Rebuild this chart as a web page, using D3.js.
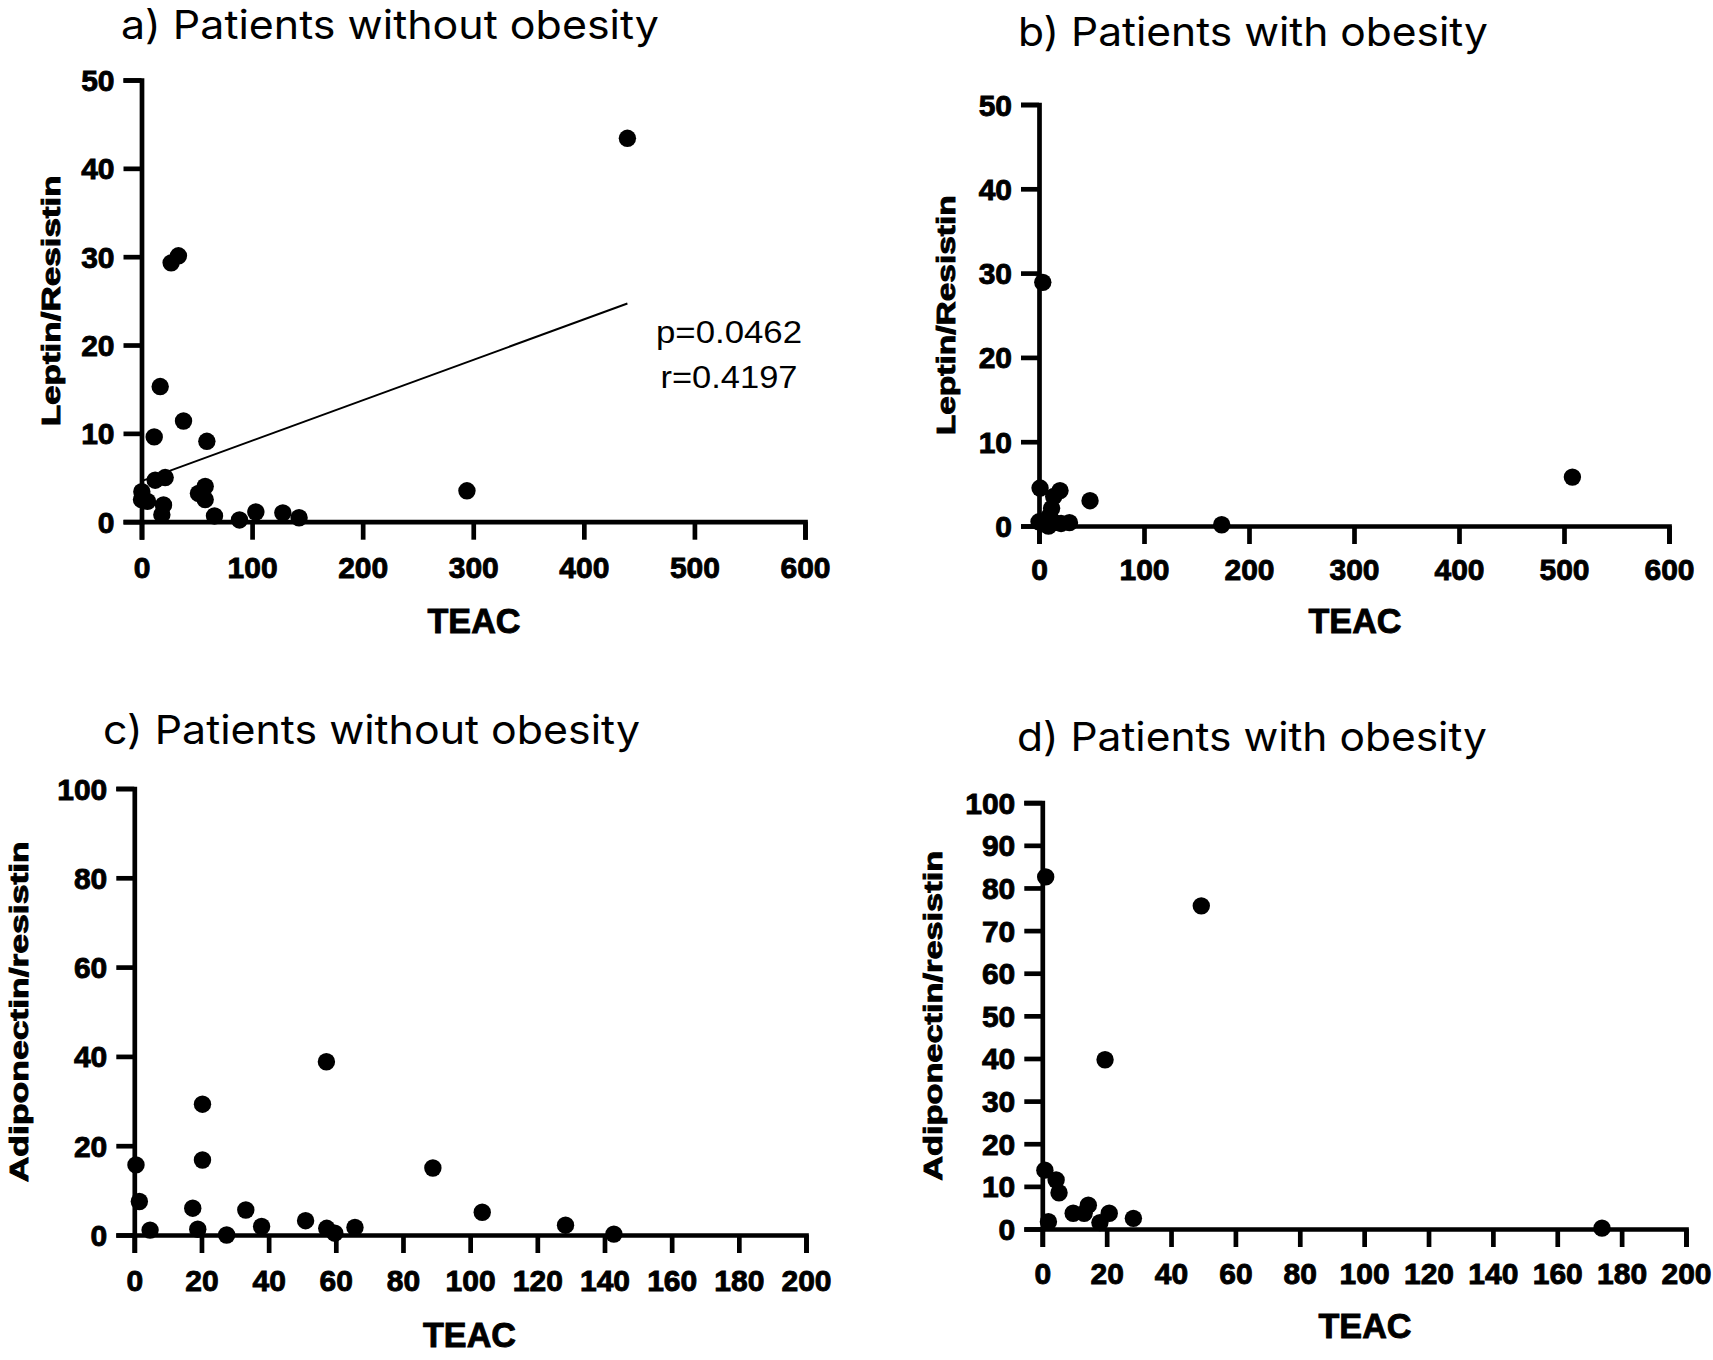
<!DOCTYPE html>
<html>
<head>
<meta charset="utf-8">
<script src="https://cdn.jsdelivr.net/npm/d3@7"></script>
<style>
body{margin:0;background:#fff}
.tick text{font-family:"Liberation Sans",Arial,sans-serif;font-weight:bold}
</style>
</head>
<body>
<div id="chart"></div>
<script>
// a) leptin/resistin vs TEAC, no obesity
const aX=[439.4,26.8,33.4,16.9,38,11.5,59.1,12.4,21.4,0.3,0,5.4,19.9,18.4,51.5,57.6,57.6,66,88.6,103.4,127.8,142.5,294.3]
const aY=[43.4,29.3,30.1,15.3,11.4,9.6,9.1,4.7,5.0,3.4,2.5,2.3,1.9,0.8,3.2,4.0,2.5,0.65,0.2,1.1,1.0,0.45,3.5]
// regression line ends
const fitX=[0,439.4]
const fitY=[4.6,24.7]
const statLines=["p=0.0462","r=0.4197"]

// b) leptin/resistin vs TEAC, obesity
const bX=[3.6,1.0,20,14,12,10,0,6,9,15,21,29,48.6,174,508]
const bY=[28.9,4.5,4.2,3.5,2.1,1.2,0.5,0.3,0,0.4,0.3,0.4,3.0,0.15,5.8]

// c) adiponectin/resistin vs TEAC, no obesity
const cX=[0.5,1.5,4.7,17.4,18.9,20.3,20.3,27.5,33.2,37.9,51.0,57.2,57.3,59.7,65.7,88.9,103.6,128.4,142.8]
const cY=[15.7,7.5,1.1,6.0,1.3,16.8,29.3,0.0,5.6,1.9,3.2,38.8,1.5,0.4,1.7,15.0,5.1,2.2,0.2]

// d) adiponectin/resistin vs TEAC, obesity
const dX=[1.05,49.4,19.5,0.8,4.3,5.2,1.9,9.6,13.0,14.3,17.9,20.8,28.3,173.9]
const dY=[82.6,75.8,39.7,13.8,11.5,8.5,1.7,3.7,3.7,5.6,1.5,3.7,2.5,0.2]

const teacTicks600=[0,100,200,300,400,500,600]
const teacTicks200=[0,20,40,60,80,100,120,140,160,180,200]
const ratioTicks50=[0,10,20,30,40,50]
const ratioTicks100by20=[0,20,40,60,80,100]
const ratioTicks100by10=[0,10,20,30,40,50,60,70,80,90,100]

const titles=["a) Patients without obesity","b) Patients with obesity","c) Patients without obesity","d) Patients with obesity"]
const yTitles=["Leptin/Resistin","Leptin/Resistin","Adiponectin/resistin","Adiponectin/resistin"]
const xTitle="TEAC"

const W=1713,H=1360

const svg=d3.select("#chart")
.append("svg")
.attr("width",W)
.attr("height",H)
.style("background","#fff")

const panels=[
{xs:aX,ys:aY,xMax:600,yMax:50,xTicks:teacTicks600,yTicks:ratioTicks50,
x0:141.5,x1:805,y0:521.7,y1:80,pad:17,
title:titles[0],tx:121,ty:38.5,tw:538,
yt:yTitles[0],ytx:59.5,ytw:251,
xtx:474,xty:633,fit:true},
{xs:bX,ys:bY,xMax:600,yMax:50,xTicks:teacTicks600,yTicks:ratioTicks50,
x0:1039,x1:1669,y0:526,y1:104.5,pad:15,
title:titles[1],tx:1018,ty:46,tw:470,
yt:yTitles[1],ytx:955,ytw:240,
xtx:1355,xty:632.6},
{xs:cX,ys:cY,xMax:200,yMax:100,xTicks:teacTicks200,yTicks:ratioTicks100by20,
x0:134.3,x1:806,y0:1235,y1:788.5,pad:17,
title:titles[2],tx:103,ty:744,tw:537,
yt:yTitles[2],ytx:28,ytw:341,
xtx:469.5,xty:1347},
{xs:dX,ys:dY,xMax:200,yMax:100,xTicks:teacTicks200,yTicks:ratioTicks100by10,
x0:1042.3,x1:1686,y0:1229,y1:802.7,pad:15.5,
title:titles[3],tx:1017,ty:751,tw:470,
yt:yTitles[3],ytx:942,ytw:330,
xtx:1365,xty:1338.4}
]

panels.forEach(drawPanel)

function drawPanel(p){

const x=d3.scaleLinear().domain([0,p.xMax]).range([p.x0,p.x1])
const y=d3.scaleLinear().domain([0,p.yMax]).range([p.y0,p.y1])

const g=svg.append("g")

// x axis
const gx=g.append("g")
.attr("transform","translate(0,"+y(0)+")")
.call(d3.axisBottom(x).tickValues(p.xTicks).tickSize(18).tickSizeOuter(18).tickPadding(p.pad))

// y axis
const gy=g.append("g")
.attr("transform","translate("+x(0)+",0)")
.call(d3.axisLeft(y).tickValues(p.yTicks).tickSize(18).tickSizeOuter(18).tickPadding(9))

g.selectAll(".domain")
.attr("stroke","#000")
.attr("stroke-width",4.7)
.attr("fill","none")

g.selectAll(".tick line")
.attr("stroke","#000")
.attr("stroke-width",4.7)

g.selectAll(".tick text")
.attr("fill","#000")
.attr("stroke","#000")
.attr("stroke-width",0.9)
.style("font-size","30px")

gy.selectAll(".tick text").attr("dy","0.35em")

// regression line (panel a only)
if(p.fit){
g.append("path")
.datum(d3.zip(fitX,fitY))
.attr("d",d3.line().x(d=>x(d[0])).y(d=>y(d[1])))
.attr("stroke","#000")
.attr("stroke-width",1.9)
.attr("fill","none")

g.selectAll(".stat")
.data(statLines)
.enter()
.append("text")
.attr("class","stat")
.attr("x",729)
.attr("y",(d,i)=>343.3+i*45)
.attr("text-anchor","middle")
.attr("textLength",(d,i)=>i==0?146:137)
.attr("lengthAdjust","spacingAndGlyphs")
.style("font-family","'Liberation Sans',Arial,sans-serif")
.style("font-size","31px")
.text(d=>d)
}

// points
g.selectAll(".dot")
.data(d3.zip(p.xs,p.ys))
.enter()
.append("circle")
.attr("class","dot")
.attr("cx",d=>x(d[0]))
.attr("cy",d=>y(d[1]))
.attr("r",8.7)
.attr("fill","#000")

// panel title
g.append("text")
.attr("x",p.tx)
.attr("y",p.ty)
.attr("textLength",p.tw)
.attr("lengthAdjust","spacingAndGlyphs")
.style("font-family","Inter,Roboto,sans-serif")
.style("font-size","40px")
.text(p.title)

// y axis title
const ymid=(p.y0+p.y1)/2
g.append("text")
.attr("transform","translate("+p.ytx+","+ymid+") rotate(-90)")
.attr("text-anchor","middle")
.attr("textLength",p.ytw)
.attr("lengthAdjust","spacingAndGlyphs")
.attr("stroke","#000")
.attr("stroke-width",0.9)
.style("font-family","'Liberation Sans',Arial,sans-serif")
.style("font-weight","bold")
.style("font-size","26px")
.text(p.yt)

// x axis title
g.append("text")
.attr("x",p.xtx)
.attr("y",p.xty)
.attr("text-anchor","middle")
.attr("textLength",93)
.attr("lengthAdjust","spacingAndGlyphs")
.attr("stroke","#000")
.attr("stroke-width",0.9)
.style("font-family","'Liberation Sans',Arial,sans-serif")
.style("font-weight","bold")
.style("font-size","35px")
.text(xTitle)

}
</script>
</body>
</html>
